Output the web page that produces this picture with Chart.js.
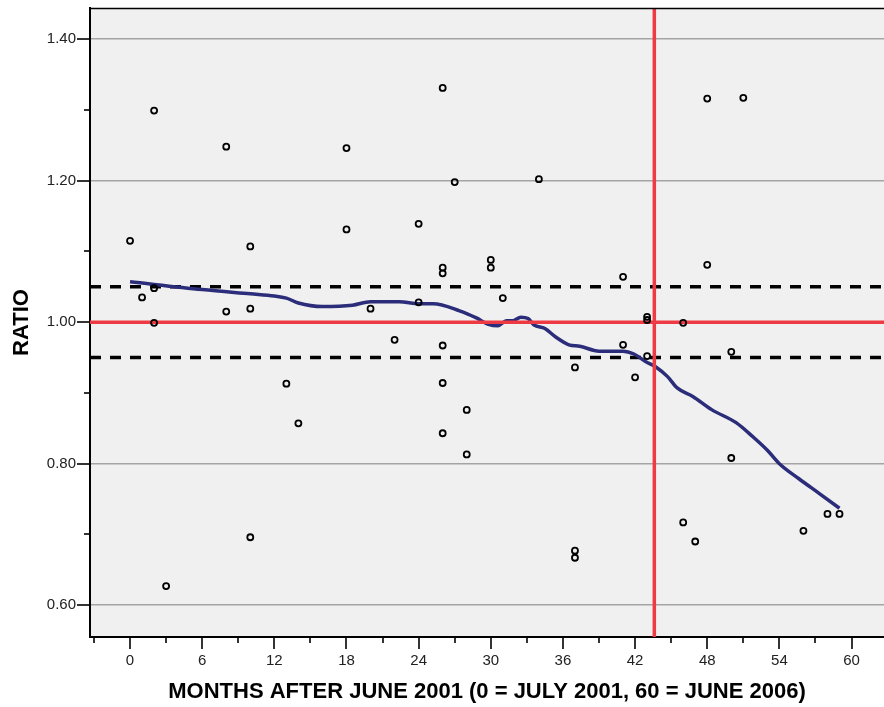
<!DOCTYPE html>
<html>
<head>
<meta charset="utf-8">
<script src="https://cdn.jsdelivr.net/npm/chart.js@4.4.1/dist/chart.umd.min.js"></script>
<style>
  html, body { margin: 0; padding: 0; background: #fff; }
  #wrap { width: 884px; height: 707px; }
</style>
</head>
<body>
<div id="wrap"><canvas id="ratioChart" width="884" height="707"></canvas></div>
<script>
// months after June 2001 and ratio for each observation
const obsMonths = [0, 1, 2, 2, 2, 3, 8, 8, 10, 10, 10, 13, 14, 18, 18, 20, 22, 24, 24,
  26, 26, 26, 26, 26, 26, 27, 28, 28, 30, 30, 31, 34, 37, 37, 37, 41, 41, 42, 43, 43, 43,
  46, 46, 47, 48, 48, 50, 50, 51, 56, 58, 59];
const obsRatio = [1.115, 1.035, 1.299, 1.048, 0.999, 0.627, 1.248, 1.015, 1.107, 1.019, 0.696,
  0.913, 0.857, 1.246, 1.131, 1.019, 0.975, 1.139, 1.028,
  1.331, 1.077, 1.069, 0.967, 0.914, 0.843, 1.198, 0.876, 0.813, 1.088, 1.077, 1.034, 1.202,
  0.936, 0.677, 0.667, 1.064, 0.968, 0.922, 1.0075, 1.003, 0.952,
  0.999, 0.717, 0.690, 1.316, 1.081, 0.958, 0.808, 1.317, 0.705, 0.729, 0.729];

// smoothed fit line
const fitMonths = [0, 6, 10, 12, 13, 14, 16, 18.5, 20, 22.4, 24, 25.2, 27.4, 28.8, 29.8, 30.6,
  31.3, 31.8, 32.5, 33.1, 33.6, 34.5, 35.4, 36.5, 37.4, 39, 41, 41.9, 42.9, 43.7, 44.7, 45.5,
  46.8, 48.4, 50.4, 51.8, 53, 54, 55.6, 57.3, 59];
const fitRatio = [1.057, 1.046, 1.040, 1.037, 1.034, 1.027, 1.022, 1.024, 1.029, 1.029, 1.026,
  1.026, 1.016, 1.006, 0.997, 0.995, 1.002, 1.002, 1.007, 1.005, 0.996, 0.991, 0.979, 0.968,
  0.966, 0.959, 0.959, 0.955, 0.944, 0.937, 0.923, 0.907, 0.895, 0.876, 0.858, 0.838, 0.819,
  0.800, 0.779, 0.758, 0.737];

// reference lines
const refRatio = [1.00];
const bandRatio = [1.05, 0.95];
const refMonth = [43.6];

// axes
const xRange = [-3.33, 62.7];
const yRange = [0.555, 1.444];
const xTicks = [-3, 0, 3, 6, 9, 12, 15, 18, 21, 24, 27, 30, 33, 36, 39, 42, 45, 48, 51, 54, 57, 60];
const xLabelTicks = [0, 6, 12, 18, 24, 30, 36, 42, 48, 54, 60];
const yTicks = [0.6, 0.7, 0.8, 0.9, 1.0, 1.1, 1.2, 1.3, 1.4];
const yLabelTicks = [0.6, 0.8, 1.0, 1.2, 1.4];

const isMajorY = v => yLabelTicks.some(t => Math.abs(t - v) < 1e-6);
const isMajorX = v => xLabelTicks.includes(v);

const toXY = (xs, ys) => xs.map((x, i) => ({ x: x, y: ys[i] }));

// plot background + top frame
const frame = {
  id: 'frame',
  beforeDraw(chart) {
    const { ctx, chartArea: a } = chart;
    ctx.save();
    ctx.fillStyle = '#f0f0f0';
    ctx.fillRect(a.left, a.top, a.right - a.left, a.bottom - a.top);
    ctx.restore();
  },
  afterDraw(chart) {
    const { ctx, chartArea: a, scales } = chart;
    ctx.save();
    ctx.strokeStyle = '#000';
    ctx.lineWidth = 1.5;
    ctx.beginPath();
    ctx.moveTo(a.left, a.top + 0.5);
    ctx.lineTo(a.right, a.top + 0.5);
    ctx.stroke();
    // tick marks, long for labelled ones
    ctx.lineWidth = 1.6;
    xTicks.forEach(v => {
      const px = Math.round(scales.x.getPixelForValue(v));
      ctx.beginPath();
      ctx.moveTo(px, a.bottom);
      ctx.lineTo(px, a.bottom + (isMajorX(v) ? 12 : 6));
      ctx.stroke();
    });
    yTicks.forEach(v => {
      const py = Math.round(scales.y.getPixelForValue(v));
      ctx.beginPath();
      ctx.moveTo(a.left, py);
      ctx.lineTo(a.left - (isMajorY(v) ? 13 : 6), py);
      ctx.stroke();
    });
    ctx.restore();
  }
};

Chart.defaults.font.family = '"Liberation Sans", Arial, sans-serif';
Chart.defaults.color = '#222';

new Chart(document.getElementById('ratioChart'), {
  type: 'scatter',
  data: {
    datasets: [
      {
        label: 'obs',
        data: toXY(obsMonths, obsRatio),
        pointStyle: 'circle',
        pointRadius: 3,
        pointBorderWidth: 1.8,
        pointBorderColor: '#000',
        pointBackgroundColor: 'rgba(0,0,0,0)',
        showLine: false
      },
      {
        label: 'ref h',
        type: 'line',
        data: [{ x: xRange[0], y: refRatio[0] }, { x: xRange[1], y: refRatio[0] }],
        borderColor: '#ee3a43',
        borderWidth: 3.5,
        pointRadius: 0
      },
      {
        label: 'ref v',
        type: 'line',
        data: [{ x: refMonth[0], y: yRange[0] }, { x: refMonth[0], y: yRange[1] }],
        borderColor: '#ee3a43',
        borderWidth: 3.5,
        pointRadius: 0
      },
      {
        label: 'fit',
        type: 'line',
        data: toXY(fitMonths, fitRatio),
        borderColor: '#2b2d7a',
        borderWidth: 3.5,
        pointRadius: 0,
        cubicInterpolationMode: 'monotone'
      },
      ...bandRatio.map(b => ({
        label: 'band ' + b,
        type: 'line',
        data: [{ x: xRange[0], y: b }, { x: xRange[1], y: b }],
        borderColor: '#000',
        borderWidth: 3.5,
        borderDash: [11, 9],
        pointRadius: 0
      }))
    ]
  },
  options: {
    responsive: false,
    animation: false,
    devicePixelRatio: 1,
    layout: { autoPadding: false, padding: { top: 8, right: 0, left: 0, bottom: 0 } },
    plugins: { legend: { display: false }, tooltip: { enabled: false } },
    scales: {
      x: {
        type: 'linear',
        min: xRange[0],
        max: xRange[1],
        afterBuildTicks: s => { s.ticks = xTicks.map(v => ({ value: v })); },
        afterFit: s => { s.height = 70; s.paddingLeft = 0; s.paddingRight = 0; },
        ticks: {
          autoSkip: false,
          maxRotation: 0,
          padding: 15,
          font: { size: 15 },
          callback: v => isMajorX(v) ? String(v) : ''
        },
        grid: { display: false, drawTicks: false },
        border: { display: true, color: '#000', width: 2 },
        title: {
          display: true,
          text: 'MONTHS AFTER JUNE 2001 (0 = JULY 2001, 60 = JUNE 2006)',
          color: '#000',
          font: { size: 22, weight: 'bold' },
          padding: { top: 0, bottom: 2 }
        }
      },
      y: {
        type: 'linear',
        min: yRange[0],
        max: yRange[1],
        afterBuildTicks: s => { s.ticks = yTicks.map(v => ({ value: v })); },
        afterFit: s => { s.width = 90; s.paddingTop = 0; s.paddingBottom = 0; },
        ticks: {
          autoSkip: false,
          padding: 14,
          font: { size: 15 },
          callback: v => isMajorY(v) ? v.toFixed(2) : ''
        },
        grid: {
          drawTicks: false,
          lineWidth: 1.6,
          color: c => (c.tick && isMajorY(c.tick.value)) ? '#a4a4a4' : 'rgba(0,0,0,0)'
        },
        border: { display: true, color: '#000', width: 2 },
        title: {
          display: true,
          text: 'RATIO',
          color: '#000',
          font: { size: 22, weight: 'bold' },
          padding: { top: 9, bottom: 0 }
        }
      }
    }
  },
  plugins: [frame]
});
</script>
</body>
</html>
